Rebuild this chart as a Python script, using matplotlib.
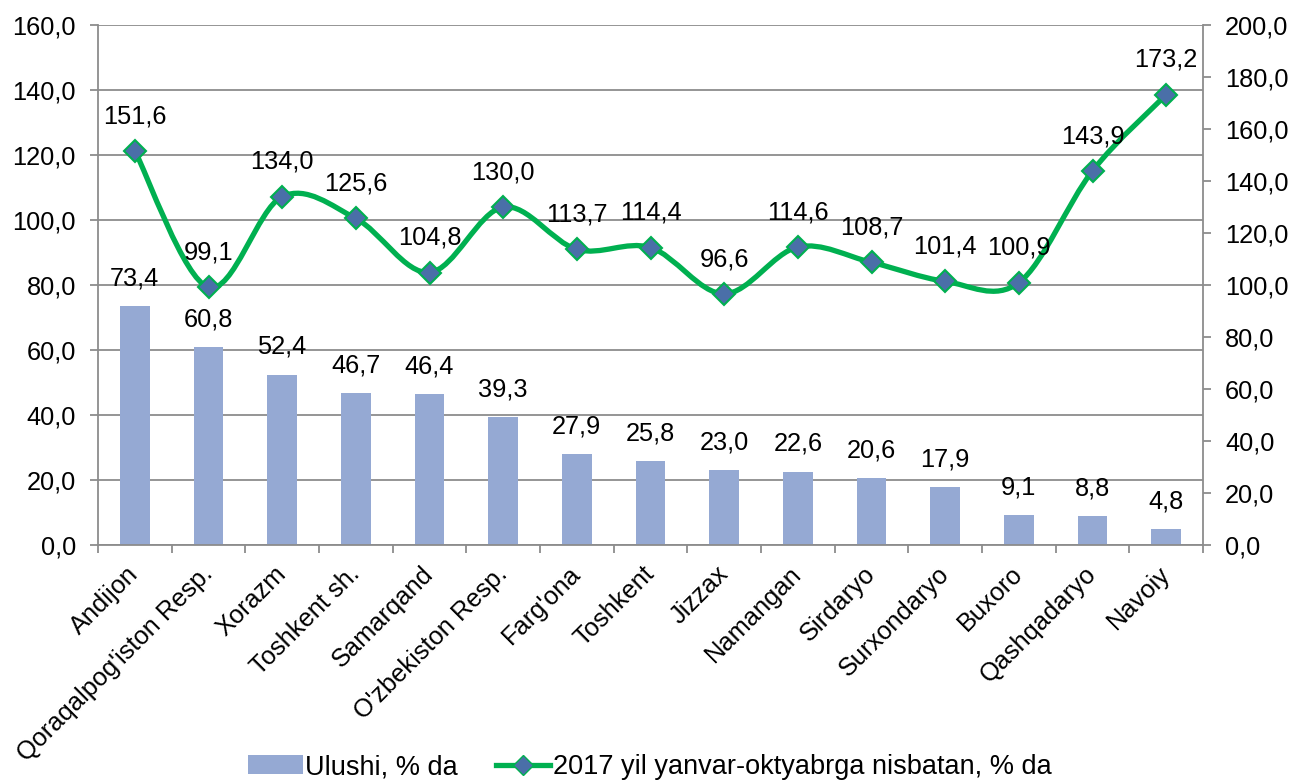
import matplotlib
matplotlib.use("Agg")
import matplotlib.pyplot as plt
from matplotlib.path import Path
from matplotlib.patches import PathPatch
from matplotlib.lines import Line2D
from matplotlib.patches import Patch
import numpy as np

plt.rcParams['font.family'] = ['Liberation Sans', 'DejaVu Sans']

categories = ["Andijon", "Qoraqalpog'iston Resp.", "Xorazm", "Toshkent sh.", "Samarqand",
              "O'zbekiston Resp.", "Farg'ona", "Toshkent", "Jizzax", "Namangan", "Sirdaryo",
              "Surxondaryo", "Buxoro", "Qashqadaryo", "Navoiy"]
share = [73.4, 60.8, 52.4, 46.7, 46.4, 39.3, 27.9, 25.8, 23.0, 22.6, 20.6, 17.9, 9.1, 8.8, 4.8]
growth = [151.6, 99.1, 134.0, 125.6, 104.8, 130.0, 113.7, 114.4, 96.6, 114.6, 108.7, 101.4, 100.9, 143.9, 173.2]

bar_color = '#95A9D3'
line_color = '#00B050'
marker_color = '#4A6FA8'
grid_color = '#8C8C8C'
fs = 18.3

def fmt(v):
    return f"{v:.1f}".replace('.', ',')

fig = plt.figure(figsize=(12.96, 7.8), dpi=100)
ax = fig.add_axes([98/1296, 1 - 545/780, (1203-98)/1296, (545-25)/780])
ax2 = ax.twinx()

x = np.arange(len(categories))
ax.bar(x, share, width=0.4, color=bar_color, zorder=2)
ax.set_xlim(-0.5, len(categories) - 0.5)
ax.set_ylim(0, 160)
ax.set_yticks(np.arange(0, 161, 20))
ax.set_yticklabels([fmt(v) for v in np.arange(0, 161, 20)], fontsize=fs)
ax.yaxis.grid(True, color=grid_color, linewidth=1.3, zorder=0)
ax.set_axisbelow(True)
for i, v in enumerate(share):
    ax.annotate(fmt(v), (i, v), xytext=(0, 20), textcoords='offset points',
                ha='center', va='center', fontsize=fs)

# category ticks at boundaries, labels at centres
ax.set_xticks(np.arange(-0.5, len(categories), 1.0))
ax.set_xticklabels([])
ax.set_xticks(x, minor=True)
ax.set_xticklabels(categories, minor=True, rotation=45, ha='right', va='center',
                   rotation_mode='anchor', fontsize=fs)
ax.tick_params(axis='x', which='minor', length=0, pad=18)
ax.tick_params(axis='x', which='major', length=6, color=grid_color, width=1.3)
ax.tick_params(axis='y', length=6, color=grid_color, width=1.3, pad=10)

for s in ['top', 'right']:
    ax.spines[s].set_visible(False)
for s in ['left', 'bottom']:
    ax.spines[s].set_color(grid_color)
    ax.spines[s].set_linewidth(1.3)

ax2.set_ylim(0, 200)
ax2.set_yticks(np.arange(0, 201, 20))
ax2.set_yticklabels([fmt(v) for v in np.arange(0, 201, 20)], fontsize=fs)
ax2.tick_params(axis='y', length=6, color=grid_color, width=1.3, pad=10)
for s in ['top', 'left', 'bottom']:
    ax2.spines[s].set_visible(False)
ax2.spines['right'].set_color(grid_color)
ax2.spines['right'].set_linewidth(1.3)

# smoothed line (Bezier through the data points)
pts = np.column_stack([x, growth]).astype(float)
verts = [tuple(pts[0])]
codes = [Path.MOVETO]
n = len(pts)
for i in range(n - 1):
    p0 = pts[i - 1] if i > 0 else pts[i]
    p1 = pts[i]
    p2 = pts[i + 1]
    p3 = pts[i + 2] if i + 2 < n else pts[i + 1]
    c1 = p1 + (p2 - p0) / 6.0
    c2 = p2 - (p3 - p1) / 6.0
    verts += [tuple(c1), tuple(c2), tuple(p2)]
    codes += [Path.CURVE4] * 3
ax2.add_patch(PathPatch(Path(verts, codes), facecolor='none', edgecolor=line_color,
                        linewidth=3.8, zorder=3, capstyle='round', joinstyle='round'))
ax2.plot(x, growth, linestyle='none', marker='D', markersize=11, markerfacecolor=marker_color,
         markeredgecolor=line_color, markeredgewidth=1.5, zorder=4)
for i, v in enumerate(growth):
    ax2.annotate(fmt(v), (i, v), xytext=(0, 25), textcoords='offset points',
                 ha='center', va='center', fontsize=fs)

handles = [Patch(facecolor=bar_color, edgecolor='none', label='Ulushi, % da'),
           Line2D([0], [0], color=line_color, linewidth=3.8, marker='D', markersize=10,
                  markerfacecolor=marker_color, markeredgecolor=line_color,
                  label='2017 yil yanvar-oktyabrga nisbatan, % da')]
fig.legend(handles=handles, loc='center', bbox_to_anchor=(650/1296, 1 - 767/780), ncol=2,
           frameon=False, fontsize=19.5, handlelength=2.0, handletextpad=0.1,
           columnspacing=1.4, borderpad=0)

fig.savefig('out.png', dpi=100)
